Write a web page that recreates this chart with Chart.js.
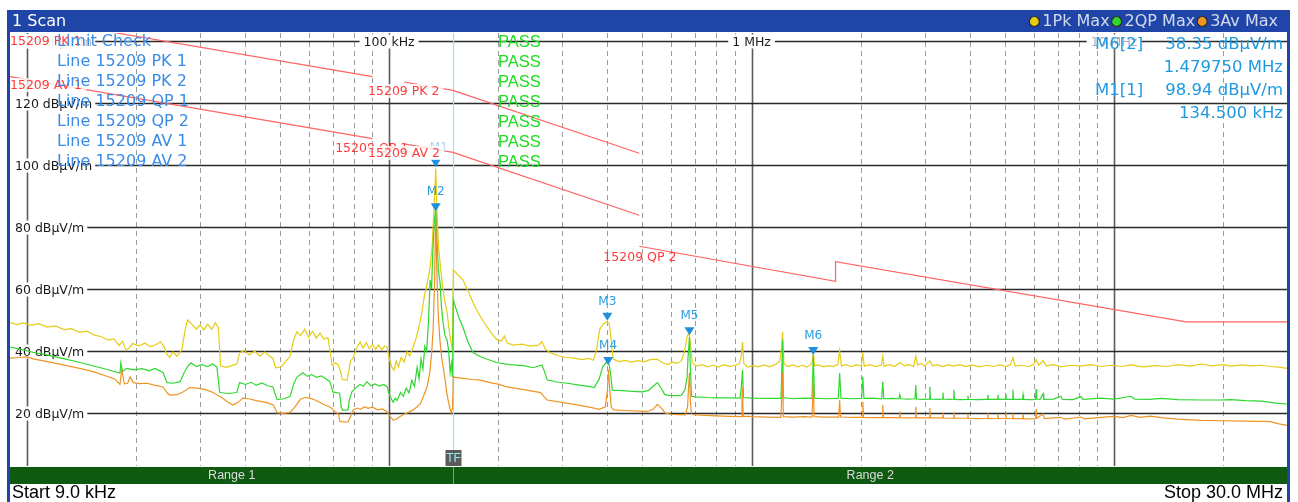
<!DOCTYPE html>
<html lang="en">
<head>
<meta charset="UTF-8">
<title>1 Scan</title>
<script src="https://cdn.jsdelivr.net/npm/chart.js"></script>
<style>
  html, body { margin: 0; padding: 0; background: #fff; }
  canvas { display: block; }
</style>
</head>
<body>
<canvas id="scan" width="1298" height="502"></canvas>
<script>
// frequency in kHz, level in dBuV/m
const pkTrace = [[9.0,49.2],[9.4,48.5],[9.8,49.1],[10.3,48.3],[10.8,48.8],[11.4,47.7],[12.0,48.1],[12.7,46.9],[13.3,47.2],[14.0,46.0],[14.7,46.4],[15.4,45.1],[16.1,44.6],[16.8,43.5],[17.4,43.9],[18.0,41.8],[18.4,43.2],[18.8,40.2],[19.2,41.0],[19.6,42.4],[20.4,41.7],[21.2,42.5],[22.0,41.4],[22.8,42.1],[23.4,43.0],[23.9,41.5],[24.3,39.2],[24.8,37.9],[25.3,39.7],[26.0,38.3],[26.8,40.4],[27.4,47.0],[27.8,50.0],[28.6,48.6],[29.4,47.1],[30.1,48.4],[30.8,46.8],[31.6,48.7],[32.4,47.0],[33.2,49.1],[33.8,47.5],[34.3,35.2],[35.6,34.7],[36.8,35.3],[38.0,35.8],[38.7,39.4],[39.8,40.2],[41.2,38.7],[42.6,40.0],[44.0,38.3],[45.4,39.7],[46.8,38.4],[47.8,37.6],[48.6,34.6],[50.5,34.9],[52.0,36.8],[53.3,38.2],[54.5,43.5],[55.7,46.2],[57.0,44.9],[58.5,47.0],[60.0,44.5],[61.5,46.4],[63.0,44.1],[64.5,45.8],[66.0,43.9],[67.8,44.3],[68.8,40.0],[69.6,35.4],[71.0,36.2],[72.4,35.6],[73.6,33.0],[74.3,30.8],[76.6,30.6],[77.4,33.4],[78.2,36.8],[79.6,37.8],[81.2,40.8],[83.2,42.9],[84.8,41.0],[86.5,42.7],[88.2,40.8],[90.0,42.1],[91.8,40.6],[93.6,41.9],[95.4,40.4],[97.2,41.6],[98.7,41.2],[100.2,37.4],[101.6,35.0],[103.2,33.8],[104.6,36.8],[106.2,34.9],[108.0,38.0],[110.0,36.4],[112.0,39.8],[114.0,38.4],[116.5,41.4],[118.5,43.8],[120.8,47.6],[123.0,52.0],[125.0,57.5],[127.5,62.0],[129.8,67.0],[131.5,74.0],[133.0,86.0],[134.5,98.9],[135.5,86.0],[136.8,74.0],[138.3,68.4],[140.0,62.5],[142.0,57.0],[144.6,52.3],[146.4,47.0],[148.3,42.6],[149.6,40.4],[150.4,66.1],[155.0,64.6],[160.0,62.9],[166.0,58.8],[172.0,54.6],[179.0,50.9],[186.6,47.7],[192.0,45.6],[198.7,43.6],[204.0,43.2],[208.0,44.8],[212.0,42.6],[220.0,41.9],[232.0,42.2],[245.0,41.6],[258.0,41.9],[264.0,43.0],[270.0,40.6],[278.6,39.4],[290.0,38.7],[305.0,37.9],[322.0,37.8],[340.0,37.2],[356.0,37.6],[366.0,37.0],[374.0,40.5],[381.0,47.0],[390.0,48.8],[398.0,49.3],[405.0,48.9],[410.0,43.5],[415.0,37.4],[430.0,36.6],[448.0,37.0],[466.0,36.4],[485.0,36.9],[505.0,36.5],[525.0,37.2],[548.0,37.4],[568.0,36.2],[586.0,35.6],[606.0,36.4],[624.0,36.0],[640.0,36.8],[652.0,39.5],[664.0,44.6],[672.0,46.0],[679.0,42.0],[686.0,36.2],[705.0,35.1],[730.0,35.6],[755.0,34.9],[782.0,35.4],[810.0,34.8],[840.0,35.6],[870.0,35.0],[900.0,35.4],[925.0,35.9],[936.0,38.0],[944.0,42.9],[952.0,36.0],[975.0,34.8],[1010.0,35.3],[1045.0,34.9],[1080.0,35.5],[1120.0,34.9],[1160.0,35.6],[1195.0,36.6],[1210.0,41.0],[1218.0,46.2],[1228.0,36.0],[1260.0,35.0],[1300.0,35.5],[1340.0,34.9],[1380.0,35.4],[1420.0,34.8],[1455.0,35.6],[1470.0,36.5],[1480.0,39.6],[1492.0,35.2],[1530.0,35.5],[1580.0,34.9],[1630.0,35.3],[1680.0,35.0],[1730.0,35.7],[1750.0,40.1],[1770.0,35.2],[1820.0,35.6],[1880.0,35.0],[1950.0,35.5],[2010.0,35.2],[2027.0,39.6],[2045.0,35.1],[2120.0,35.6],[2200.0,35.0],[2280.0,35.4],[2301.0,38.3],[2320.0,35.1],[2400.0,35.6],[2480.0,35.0],[2564.0,36.3],[2640.0,35.2],[2720.0,35.7],[2800.0,35.0],[2838.0,38.4],[2870.0,35.5],[2940.0,36.0],[3000.0,35.1],[3103.0,36.8],[3160.0,35.2],[3250.0,35.6],[3373.0,35.0],[3480.0,35.5],[3616.0,35.1],[3750.0,35.6],[3900.0,35.0],[4050.0,35.5],[4250.0,34.9],[4450.0,35.4],[4650.0,35.0],[4850.0,35.5],[5030.0,35.0],[5180.0,35.6],[5260.0,37.8],[5340.0,35.1],[5550.0,35.4],[5800.0,35.0],[6000.0,35.6],[6094.0,37.2],[6200.0,35.4],[6371.0,36.9],[6500.0,35.2],[6800.0,35.6],[7140.0,34.9],[7600.0,35.4],[8110.0,35.1],[8600.0,35.6],[9210.0,35.0],[9800.0,35.4],[10500.0,35.0],[11140.0,35.5],[12000.0,34.9],[13000.0,35.3],[14000.0,35.0],[15000.0,35.6],[16200.0,35.1],[17390.0,35.8],[18600.0,35.2],[20000.0,35.6],[21040.0,35.1],[22500.0,35.5],[24000.0,35.2],[25460.0,35.4],[27000.0,35.0],[28500.0,34.8],[30000.0,34.4]];

const qpTrace = [[9.0,41.3],[9.6,40.6],[10.4,39.6],[11.2,38.9],[12.1,38.0],[13.0,37.2],[14.0,36.3],[15.0,35.4],[16.0,34.6],[17.0,33.8],[18.1,32.9],[18.2,36.2],[18.4,33.4],[18.9,34.4],[19.8,33.9],[20.8,34.3],[21.8,33.6],[22.6,34.4],[23.3,33.6],[23.8,33.0],[24.4,29.8],[25.4,29.6],[26.5,30.1],[27.2,33.0],[27.8,35.0],[28.4,36.2],[29.4,35.0],[30.4,35.6],[31.6,35.0],[32.6,35.8],[33.5,34.8],[34.1,26.6],[36.0,26.3],[38.0,26.6],[38.7,29.8],[40.2,29.2],[41.6,29.9],[43.0,28.9],[44.6,29.7],[46.2,28.8],[47.8,28.4],[49.1,24.3],[51.2,24.6],[53.3,25.3],[54.6,29.5],[55.7,31.6],[57.8,33.0],[59.5,31.8],[61.2,32.4],[63.0,31.5],[65.0,32.0],[67.0,31.0],[68.6,30.2],[70.0,26.8],[73.0,26.4],[73.8,22.0],[74.4,20.9],[77.0,21.0],[77.8,24.5],[79.0,26.8],[81.0,28.2],[83.2,29.2],[85.0,28.6],[86.9,30.1],[89.0,28.8],[91.5,29.4],[94.0,28.7],[96.5,29.2],[98.7,28.5],[100.5,25.5],[102.6,23.5],[104.0,24.8],[105.2,24.0],[107.5,26.6],[109.5,25.4],[111.5,28.0],[113.5,26.5],[115.5,30.5],[117.5,28.6],[119.5,34.8],[121.0,31.0],[122.5,37.5],[124.0,34.2],[125.5,41.5],[127.0,40.0],[128.5,50.0],[129.8,62.9],[131.0,60.0],[132.0,72.0],[133.2,81.0],[134.5,86.5],[135.5,76.0],[136.8,66.0],[138.3,61.9],[139.5,54.0],[141.0,49.0],[142.6,45.0],[144.6,43.5],[146.0,40.0],[147.4,33.0],[148.6,36.0],[149.6,31.5],[150.4,56.5],[155.0,51.5],[160.0,47.6],[165.0,43.0],[170.6,39.4],[180.0,38.0],[190.0,37.0],[198.7,36.2],[215.0,35.6],[235.0,35.3],[250.0,34.6],[264.0,35.5],[268.0,33.6],[273.0,30.7],[290.0,30.0],[310.0,29.6],[335.0,29.0],[355.0,28.6],[368.0,28.2],[380.0,31.0],[388.0,34.8],[398.0,36.4],[405.0,35.5],[409.0,32.0],[413.0,27.4],[440.0,27.2],[470.0,27.0],[500.0,26.8],[520.0,27.3],[537.0,28.8],[550.0,29.8],[563.0,28.0],[576.0,26.0],[590.0,25.7],[615.0,25.6],[640.0,25.7],[655.0,27.5],[664.0,31.5],[668.0,38.0],[674.0,44.5],[678.0,34.0],[683.0,25.4],[700.0,25.2],[750.0,25.0],[800.0,24.9],[860.0,24.9],[930.0,24.8],[938.0,29.0],[944.0,33.9],[950.0,25.0],[1000.0,24.8],[1100.0,24.7],[1205.0,24.7],[1212.0,34.0],[1218.0,43.5],[1224.0,25.0],[1300.0,24.6],[1400.0,24.8],[1468.0,24.7],[1480.0,38.35],[1492.0,24.8],[1600.0,24.6],[1735.0,24.7],[1750.0,32.9],[1765.0,24.8],[1900.0,24.6],[2012.0,24.7],[2027.0,31.7],[2042.0,24.7],[2160.0,24.8],[2286.0,24.6],[2301.0,30.1],[2316.0,24.6],[2450.0,24.7],[2550.0,24.6],[2564.0,25.9],[2578.0,24.6],[2700.0,24.5],[2824.0,24.6],[2838.0,29.0],[2852.0,24.5],[2970.0,24.4],[3090.0,24.5],[3103.0,28.5],[3116.0,24.5],[3240.0,24.4],[3360.0,24.5],[3373.0,26.6],[3386.0,24.5],[3500.0,24.4],[3603.0,24.5],[3616.0,27.4],[3629.0,24.4],[3800.0,24.3],[3940.0,24.4],[3953.0,25.6],[3966.0,24.4],[4200.0,24.3],[4470.0,24.4],[4487.0,25.9],[4504.0,24.4],[4766.0,24.4],[4783.0,25.9],[4800.0,24.4],[5013.0,24.4],[5030.0,26.0],[5047.0,24.4],[5240.0,24.4],[5260.0,27.5],[5280.0,24.5],[5590.0,24.4],[5610.0,25.9],[5630.0,24.4],[5900.0,24.3],[6070.0,24.4],[6094.0,27.7],[6118.0,24.5],[6250.0,24.4],[6371.0,26.2],[6400.0,24.4],[6800.0,24.5],[7140.0,25.4],[7200.0,24.4],[7700.0,24.3],[8110.0,25.3],[8200.0,24.4],[9210.0,24.8],[10000.0,24.5],[11140.0,25.4],[11400.0,24.5],[12500.0,24.4],[13480.0,24.7],[15000.0,24.3],[17390.0,24.2],[19500.0,24.2],[21040.0,24.3],[23000.0,24.0],[25460.0,23.8],[28000.0,23.2],[30000.0,22.9]];

const avTrace = [[9.0,37.7],[9.6,37.9],[10.0,38.1],[10.5,37.4],[11.5,36.5],[12.5,35.6],[13.5,34.8],[14.5,34.0],[15.5,33.1],[16.5,32.0],[17.5,31.0],[18.1,29.2],[18.3,34.0],[18.6,29.4],[19.0,29.6],[19.3,31.7],[19.7,29.8],[20.5,29.5],[21.5,29.6],[22.5,29.0],[23.8,28.4],[24.4,26.6],[24.8,25.8],[26.0,25.9],[27.0,26.8],[28.2,28.2],[29.5,28.0],[31.0,27.6],[32.7,26.6],[34.5,25.0],[36.0,23.5],[37.1,22.6],[38.5,23.6],[39.5,24.8],[41.0,24.6],[43.0,24.0],[45.0,23.6],[46.5,23.2],[48.0,22.5],[49.1,20.1],[51.0,19.9],[53.3,20.1],[55.0,22.0],[57.0,24.5],[58.8,25.0],[60.5,24.8],[62.5,24.2],[64.5,23.4],[66.5,22.6],[68.5,22.0],[70.2,21.0],[72.6,19.5],[73.2,17.2],[77.0,17.1],[78.4,19.0],[79.6,21.0],[81.5,21.6],[83.5,21.2],[85.5,22.0],[87.5,21.5],[90.0,21.9],[93.0,21.0],[96.0,21.3],[98.7,20.4],[100.8,18.8],[102.6,17.7],[104.5,17.9],[107.0,18.8],[110.0,19.6],[113.0,20.2],[116.5,21.0],[119.5,22.0],[122.0,23.0],[124.5,25.5],[127.3,28.4],[129.5,33.0],[131.0,39.0],[132.3,47.0],[133.5,62.0],[134.5,85.0],[135.3,68.0],[136.6,52.3],[138.0,44.0],[139.6,38.0],[141.0,34.8],[142.8,30.6],[144.5,26.0],[146.5,22.5],[148.3,20.0],[149.6,21.5],[150.4,31.6],[160.0,31.2],[170.0,30.8],[178.3,30.6],[190.0,29.8],[200.0,29.3],[210.0,28.5],[220.0,28.1],[240.0,27.4],[262.0,26.6],[268.0,25.2],[273.0,24.2],[300.0,23.4],[330.0,22.6],[360.0,21.8],[380.0,21.2],[395.0,22.0],[400.0,27.0],[403.0,34.0],[406.0,28.0],[410.0,22.0],[416.0,21.0],[450.0,20.8],[490.0,20.6],[516.0,20.5],[535.0,21.2],[550.0,22.8],[565.0,21.5],[578.0,20.0],[600.0,19.6],[630.0,19.5],[657.0,19.4],[666.0,22.0],[670.0,28.0],[674.0,33.0],[678.0,24.0],[683.0,19.5],[720.0,19.3],[800.0,19.1],[870.0,18.9],[936.0,18.8],[941.0,24.0],[944.0,28.4],[948.0,19.0],[1000.0,18.8],[1100.0,18.7],[1205.0,18.6],[1212.0,26.0],[1218.0,33.0],[1224.0,18.8],[1300.0,18.7],[1400.0,18.8],[1468.0,18.7],[1474.0,24.0],[1480.0,30.6],[1488.0,18.8],[1600.0,18.7],[1740.0,18.7],[1750.0,24.2],[1760.0,18.7],[1900.0,18.6],[2017.0,18.6],[2027.0,23.6],[2037.0,18.6],[2160.0,18.5],[2291.0,18.5],[2301.0,22.6],[2311.0,18.5],[2450.0,18.5],[2554.0,18.5],[2564.0,20.5],[2574.0,18.5],[2700.0,18.4],[2828.0,18.5],[2838.0,22.0],[2848.0,18.4],[2970.0,18.4],[3093.0,18.4],[3103.0,21.6],[3113.0,18.4],[3250.0,18.4],[3363.0,18.4],[3373.0,19.9],[3383.0,18.3],[3606.0,18.3],[3616.0,20.2],[3626.0,18.3],[3943.0,18.3],[3953.0,19.6],[3963.0,18.3],[4200.0,18.2],[4477.0,18.3],[4487.0,19.9],[4497.0,18.2],[4773.0,18.3],[4783.0,19.6],[4793.0,18.2],[5020.0,18.3],[5030.0,20.0],[5040.0,18.2],[5250.0,18.3],[5260.0,19.8],[5270.0,18.2],[5600.0,18.2],[5610.0,19.4],[5620.0,18.1],[6080.0,18.2],[6094.0,21.2],[6110.0,18.3],[6371.0,19.7],[6420.0,18.2],[7140.0,18.6],[7300.0,18.0],[8110.0,18.7],[8300.0,18.1],[9210.0,18.6],[10000.0,18.9],[10600.0,18.5],[11140.0,19.2],[11800.0,18.6],[12600.0,19.0],[13480.0,18.5],[15000.0,18.0],[17390.0,17.6],[20000.0,17.5],[23000.0,17.4],[25460.0,17.3],[27000.0,17.2],[28500.0,16.5],[30000.0,16.0]];

// FCC 15.209 limit lines
const limitPk1 = [[9, 148.5], [90, 128.5]];
const limitAv1 = [[9, 128.5], [90, 108.5]];
const limitPk2 = [[110, 126.8], [150, 124.1], [490, 103.8]];
const limitAv2 = [[110, 106.8], [150, 104.1], [490, 83.8]];
const limitQp2 = [[490, 73.8], [1705, 62.5], [1705, 68.8], [15800, 49.4], [30000, 49.4]];

const markerNames = ['M1', 'M2', 'M3', 'M4', 'M5', 'M6'];
const markerFreq = [134.5, 134.5, 400, 402, 674, 1479.75];
const markerLevel = [98.94, 84.8, 49.4, 35.2, 44.8, 38.35];

const levelTicks = [20, 40, 60, 80, 100, 120, 140];
const decadeTicks = [100, 1000, 10000];
const decadeLabels = ['100 kHz', '1 MHz', '10 MHz'];

const limitCheckRows = ['Limit Check', 'Line 15209 PK 1', 'Line 15209 PK 2', 'Line 15209 QP 1',
  'Line 15209 QP 2', 'Line 15209 AV 1', 'Line 15209 AV 2'];
const limitCheckResults = ['PASS', 'PASS', 'PASS', 'PASS', 'PASS', 'PASS', 'PASS'];

const readoutNames = ['M6[2]', '', 'M1[1]', ''];
const readoutValues = ['38.35 dBµV/m', '1.479750 MHz', '98.94 dBµV/m', '134.500 kHz'];

const traceNames = ['1Pk Max', '2QP Max', '3Av Max'];
const traceColors = ['#e6cc14', '#2ed82e', '#ee9424'];
const rangeNames = ['Range 1', 'Range 2'];
const rangeSplit = 150;

const FONT = "'DejaVu Sans', Verdana, sans-serif";
const BLUE = '#1f45a9';

function pts(arr) { return arr.map(p => ({ x: p[0], y: p[1] })); }

function limitSet(arr) {
  return { data: pts(arr), borderColor: '#ff6464', borderWidth: 1.2, order: 5 };
}

const chromePlugin = {
  id: 'chrome',
  beforeDraw(chart) {
    const ctx = chart.ctx;
    ctx.save();
    ctx.fillStyle = '#ffffff';
    ctx.fillRect(0, 0, chart.width, chart.height);
    ctx.restore();
  },
  beforeDatasetsDraw(chart) {
    const { ctx, chartArea: a, scales: { x, y } } = chart;
    ctx.save();
    // vertical frequency grid
    for (let dec = 10; dec <= 10000; dec *= 10) {
      for (let m = 1; m <= 9; m++) {
        const f = dec * m;
        if (f > 30000) break;
        const px = Math.round(x.getPixelForValue(f)) + 0.5;
        ctx.beginPath();
        if (m === 1) {
          ctx.setLineDash([]); ctx.strokeStyle = '#5c5c5c'; ctx.lineWidth = 1.6;
        } else {
          ctx.setLineDash([5, 4]); ctx.strokeStyle = '#9c9c9c'; ctx.lineWidth = 1;
        }
        ctx.moveTo(px, a.top); ctx.lineTo(px, a.bottom); ctx.stroke();
      }
    }
    ctx.setLineDash([]);
    // horizontal level grid
    ctx.strokeStyle = '#2a2a2a'; ctx.lineWidth = 1.5;
    levelTicks.forEach(v => {
      const py = Math.round(y.getPixelForValue(v)) + 0.5;
      ctx.beginPath(); ctx.moveTo(a.left, py); ctx.lineTo(a.right, py); ctx.stroke();
    });
    // level labels
    ctx.font = `12.5px ${FONT}`;
    ctx.textBaseline = 'middle';
    ctx.textAlign = 'left';
    levelTicks.forEach(v => {
      const py = Math.round(y.getPixelForValue(v)) + 0.5;
      const t = v + ' dBµV/m';
      const w = ctx.measureText(t).width;
      ctx.fillStyle = '#ffffff';
      ctx.fillRect(a.left, py - 7, w + 8, 14);
      ctx.fillStyle = v === 140 ? '#b8b8b8' : '#1a1a1a';
      ctx.fillText(t, a.left + 5, py + 1);
    });
    // decade labels on the top line
    ctx.textAlign = 'center';
    const ty = Math.round(y.getPixelForValue(140)) + 0.5;
    decadeTicks.forEach((f, i) => {
      const px = x.getPixelForValue(f);
      const w = ctx.measureText(decadeLabels[i]).width;
      ctx.fillStyle = '#ffffff';
      ctx.fillRect(px - w / 2 - 4, ty - 7, w + 8, 14);
      ctx.fillStyle = i === 2 ? '#b0b0b0' : '#1a1a1a';
      ctx.fillText(decadeLabels[i], px, ty + 1);
    });
    // transducer / range split line
    const sx = Math.round(x.getPixelForValue(rangeSplit)) + 0.5;
    ctx.strokeStyle = '#8ee8f0'; ctx.lineWidth = 1.2;
    ctx.beginPath(); ctx.moveTo(sx, a.top); ctx.lineTo(sx, a.bottom - 16); ctx.stroke();
    ctx.restore();
  },
  afterDatasetsDraw(chart) {
    const { ctx, chartArea: a, scales: { x, y } } = chart;
    ctx.save();
    ctx.textBaseline = 'middle';

    // markers
    markerNames.forEach((name, i) => {
      const px = x.getPixelForValue(markerFreq[i]);
      const py = y.getPixelForValue(markerLevel[i]);
      ctx.fillStyle = '#1f8fe0';
      ctx.beginPath();
      ctx.moveTo(px - 5, py - 9); ctx.lineTo(px + 5, py - 9); ctx.lineTo(px, py - 1);
      ctx.closePath(); ctx.fill();
      ctx.font = `12px ${FONT}`;
      ctx.textAlign = 'center';
      ctx.fillStyle = i === 0 ? '#a9d3f2' : '#2a9de2';
      ctx.fillText(name, px + (i === 0 ? 3 : 0), py - 20);
    });

    // limit line labels
    const labels = [
      ['15209 PK 1', 9, 140, true],
      ['15209 AV 1', 9, 125.8, true],
      ['15209 PK 2', 87.5, 123.9, true],
      ['15209 QP 1', 71, 105.5, false],
      ['15209 AV 2', 87.5, 103.9, true]
    ];
    ctx.font = `12.5px ${FONT}`;
    ctx.textAlign = 'left';
    labels.forEach(([t, f, v, bg]) => {
      const px = x.getPixelForValue(f);
      const py = y.getPixelForValue(v);
      const w = ctx.measureText(t).width;
      if (bg) {
        ctx.fillStyle = 'rgba(255,255,255,0.78)';
        ctx.fillRect(px - 1, py - 7, w + 5, 14);
      }
      ctx.fillStyle = '#ff3a3a';
      ctx.fillText(t, px, py + 1);
    });
    ctx.fillStyle = '#ff3a3a';
    ctx.fillText('15209 QP 2', x.getPixelForValue(390), y.getPixelForValue(70.3) + 1);

    // limit check overlay
    ctx.font = `16px ${FONT}`;
    ctx.fillStyle = '#3b8ce8';
    limitCheckRows.forEach((t, i) => ctx.fillText(t, a.left + 47, 42 + i * 20));
    ctx.font = `16.5px 'Liberation Sans', Arial, sans-serif`;
    ctx.fillStyle = '#1fdc1f';
    limitCheckResults.forEach((t, i) => ctx.fillText(t, 498, 42 + i * 20));

    // marker readout
    ctx.font = `16.5px ${FONT}`;
    ctx.fillStyle = '#1f9ae0';
    readoutNames.forEach((t, i) => {
      const ry = 45 + i * 23;
      ctx.textAlign = 'left';
      if (t) ctx.fillText(t, 1095, ry);
      ctx.textAlign = 'right';
      ctx.fillText(readoutValues[i], a.right - 4, ry);
    });
    ctx.restore();
  },
  afterDraw(chart) {
    const { ctx, chartArea: a, scales: { x } } = chart;
    ctx.save();
    ctx.textBaseline = 'middle';

    // title bar
    ctx.fillStyle = BLUE;
    ctx.fillRect(8, 10, 1282, 22);
    ctx.fillStyle = '#ffffff';
    ctx.font = `16px ${FONT}`;
    ctx.textAlign = 'left';
    ctx.fillText('1 Scan', 12, 21.5);

    // trace legend
    ctx.font = `16px ${FONT}`;
    ctx.textAlign = 'right';
    let lx = 1278;
    for (let i = traceNames.length - 1; i >= 0; i--) {
      const w = ctx.measureText(traceNames[i]).width;
      ctx.fillStyle = '#d3daee';
      ctx.fillText(traceNames[i], lx, 21.5);
      const cx = lx - w - 8;
      ctx.beginPath(); ctx.arc(cx, 21.5, 5, 0, Math.PI * 2);
      ctx.fillStyle = traceColors[i]; ctx.fill();
      ctx.strokeStyle = '#2b2b2b'; ctx.lineWidth = 1.2; ctx.stroke();
      lx = cx - 7;
    }

    // side borders
    ctx.fillStyle = BLUE;
    ctx.fillRect(7, 10, 3, 492);
    ctx.fillRect(1287, 10, 3, 492);

    // range bar
    const rb = a.bottom + 1;
    ctx.fillStyle = '#0f5a10';
    ctx.fillRect(a.left, rb, a.right - a.left, 17);
    const sx = Math.round(x.getPixelForValue(rangeSplit)) + 0.5;
    ctx.strokeStyle = '#7f9f80'; ctx.lineWidth = 1;
    ctx.beginPath(); ctx.moveTo(sx, rb); ctx.lineTo(sx, rb + 17); ctx.stroke();
    ctx.font = `12.5px 'Liberation Sans', Arial, sans-serif`;
    ctx.fillStyle = '#dcdcdc';
    ctx.textAlign = 'center';
    ctx.fillText(rangeNames[0], (a.left + sx) / 2, rb + 9);
    ctx.fillText(rangeNames[1], (sx + a.right) / 2, rb + 9);

    // TF box
    ctx.fillStyle = '#5a5a5a';
    ctx.fillRect(sx - 8, a.bottom - 16, 16, 16);
    ctx.fillStyle = '#8ff0f8';
    ctx.font = `12px 'Liberation Sans', Arial, sans-serif`;
    ctx.fillText('TF', sx, a.bottom - 7.5);

    // start / stop
    ctx.fillStyle = '#000000';
    ctx.font = `18px 'Liberation Sans Narrow', 'Liberation Sans', Arial, sans-serif`;
    ctx.textAlign = 'left';
    ctx.fillText('Start 9.0 kHz', 12, 493);
    ctx.textAlign = 'right';
    ctx.fillText('Stop 30.0 MHz', 1283, 493);
    ctx.restore();
  }
};

new Chart(document.getElementById('scan'), {
  type: 'line',
  data: {
    datasets: [
      { data: pts(avTrace), borderColor: traceColors[2], borderWidth: 1.2, order: 1 },
      { data: pts(qpTrace), borderColor: traceColors[1], borderWidth: 1.2, order: 2 },
      { data: pts(pkTrace), borderColor: traceColors[0], borderWidth: 1.2, order: 3 },
      limitSet(limitPk1),
      limitSet(limitAv1),
      limitSet(limitPk2),
      limitSet(limitAv2),
      limitSet(limitQp2)
    ]
  },
  options: {
    responsive: false,
    animation: false,
    devicePixelRatio: 1,
    events: [],
    layout: { padding: { left: 10, right: 11, top: 33, bottom: 36 } },
    elements: { point: { radius: 0 }, line: { tension: 0, fill: false } },
    scales: {
      x: { type: 'logarithmic', min: 9, max: 30000, display: false },
      y: { type: 'linear', min: 2.9, max: 142.6, display: false }
    },
    plugins: { legend: { display: false }, tooltip: { enabled: false } }
  },
  plugins: [chromePlugin]
});
</script>
</body>
</html>
